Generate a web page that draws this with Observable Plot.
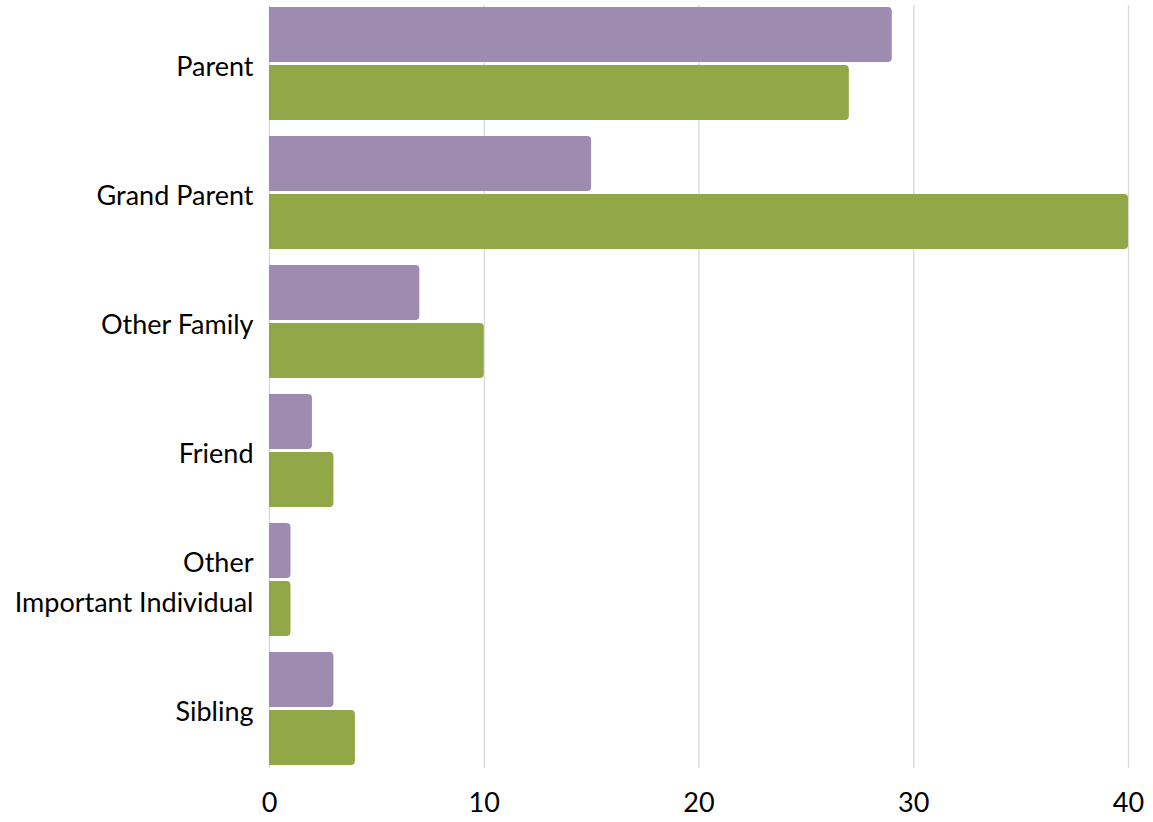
<!DOCTYPE html>
<html>
<head>
<meta charset="utf-8">
<script src="https://cdn.jsdelivr.net/npm/d3@7"></script>
<script src="https://cdn.jsdelivr.net/npm/@observablehq/plot@0.6"></script>
<style>
  html, body { margin: 0; padding: 0; background: #fff; }
  svg { display: block; }
</style>
</head>
<body>
<div id="chart"></div>
<script>
const categories = ["Parent", "Grand Parent", "Other Family", "Friend", "Other\nImportant Individual", "Sibling"];
const seriesA = [29, 15, 7, 2, 1, 3];   // purple
const seriesB = [27, 40, 10, 3, 1, 4];  // green
const xTicks = [0, 10, 20, 30, 40];

const purple = "#9e8cb0";
const green = "#92a848";

const dataA = categories.map((c, i) => ({category: c, value: seriesA[i]}));
const dataB = categories.map((c, i) => ({category: c, value: seriesB[i]}));

const half = 58;
const font = "Lato, 'Open Sans', sans-serif";

const chart = Plot.plot({
  width: 1153,
  height: 822,
  marginLeft: 269,
  marginRight: 25,
  marginTop: 5,
  marginBottom: 54,
  style: {fontFamily: font, fontSize: "27px", color: "#000", background: "#fff"},
  x: {domain: [0, 40], ticks: xTicks},
  y: {domain: categories, paddingInner: 0.124, paddingOuter: 0.015},
  marks: [
    Plot.ruleX(xTicks, {stroke: "#d9d9d9", strokeWidth: 1.3}),
    Plot.barX(dataA, {y: "category", x: "value", fill: purple, insetBottom: half, rx: 4}),
    Plot.barX(dataA, {y: "category", x: "value", fill: purple, insetBottom: half, insetRight: 6}),
    Plot.barX(dataB, {y: "category", x: "value", fill: green, insetTop: half, rx: 4}),
    Plot.barX(dataB, {y: "category", x: "value", fill: green, insetTop: half, insetRight: 6}),
    Plot.axisY({tickSize: 0, tickPadding: 16, fontSize: 27, lineHeight: 1.48, dy: -1, fill: "#000", label: null}),
    Plot.axisX({ticks: xTicks, tickSize: 0, tickPadding: 24, fontSize: 27, fill: "#000", label: null})
  ]
});
document.getElementById("chart").appendChild(chart);
</script>
</body>
</html>
